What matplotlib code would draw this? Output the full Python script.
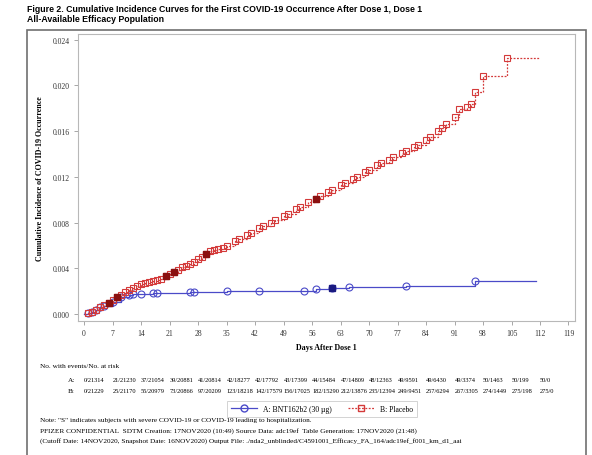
import matplotlib
matplotlib.use('Agg')
import matplotlib.pyplot as plt
from matplotlib.patches import Rectangle
from matplotlib.lines import Line2D
import matplotlib.transforms as mtransforms

# BNT162b2 (A) event days and cumulative incidence
days_a = [1, 2, 3, 4, 5, 7, 9, 11, 12, 14, 17, 18, 26, 27, 35, 43, 54, 57, 61, 65, 79, 96]
vals_a = [0.0001, 0.0002, 0.0004, 0.0006, 0.0007, 0.0011, 0.0015, 0.0017, 0.00175, 0.0018,
          0.00182, 0.00185, 0.0019, 0.00192, 0.0020, 0.00202, 0.00205, 0.0022, 0.0023, 0.0024,
          0.0025, 0.0029]
severe_a = [61]
end_a = 111

# Placebo (B) event days and cumulative incidence
days_b = [1, 2, 3, 4, 5, 6, 7, 8, 9, 10, 11, 12, 13, 14, 15, 16, 17, 18, 19, 20,
          21, 22, 23, 24, 25, 26, 27, 28, 29, 30, 31, 32, 33, 34, 35, 37, 38, 40, 41, 43,
          44, 46, 47, 49, 50, 52, 53, 55, 57, 58, 60, 61, 63, 64, 66, 67, 69, 70, 72, 73,
          75, 76, 78, 79, 81, 82, 84, 85, 87, 88, 89, 91, 92, 94, 95, 96, 98, 104]
vals_b = [0.0001, 0.0002, 0.0004, 0.0006, 0.0008, 0.0010, 0.0012, 0.0015, 0.0017, 0.0019,
          0.0021, 0.0023, 0.0025, 0.0026, 0.0027, 0.0028, 0.0029, 0.0030, 0.0031, 0.0033,
          0.0035, 0.0037, 0.0039, 0.0041, 0.0042, 0.0044, 0.0046, 0.0048, 0.0050, 0.0053,
          0.0055, 0.0056, 0.0057, 0.0058, 0.0060, 0.0064, 0.0066, 0.0069, 0.0071, 0.0075,
          0.0077, 0.0080, 0.0082, 0.0086, 0.0088, 0.0092, 0.0094, 0.0098, 0.0101, 0.0103,
          0.0107, 0.0109, 0.0113, 0.0115, 0.0118, 0.0120, 0.0124, 0.0126, 0.0130, 0.0132,
          0.0135, 0.0137, 0.0141, 0.0143, 0.0146, 0.0148, 0.0152, 0.0155, 0.0160, 0.0163,
          0.0166, 0.0172, 0.0179, 0.0181, 0.0184, 0.0194, 0.0208, 0.0224]
severe_b = [6, 8, 20, 22, 30, 57]
end_b = 112

# number at risk table
risk_days = list(range(0, 113, 7))
risk_a = ['0/21314', '21/21230', '37/21054', '39/20881', '41/20814', '42/18277', '42/17792',
          '43/17399', '44/15484', '47/14809', '48/12363', '49/9591', '49/6430', '49/3374',
          '50/1463', '50/199', '50/0']
risk_b = ['0/21229', '25/21170', '55/20979', '73/20866', '97/20209', '123/18218', '142/17579',
          '156/17025', '182/15290', '212/13876', '235/12394', '249/9451', '257/6294',
          '267/3305', '274/1449', '275/198', '275/0']

serif = 'Liberation Serif'
sans = 'Liberation Sans'
blue = '#4a4ac8'
red = '#d43a3a'

fig = plt.figure(figsize=(5.92, 4.56), dpi=100)
fig.patch.set_facecolor('white')

# outer frame
fig.patches.append(Rectangle((27 / 592, -0.02), 559 / 592, 1.02 - 31 / 456,
                             transform=fig.transFigure, fill=False,
                             edgecolor='#707070', linewidth=1.2))

fig.text(27 / 592, 1 - 9 / 456, 'Figure 2. Cumulative Incidence Curves for the First COVID-19 '
         'Occurrence After Dose 1, Dose 1', fontsize=6.3, fontweight='bold',
         family=sans, va='center', ha='left')
fig.text(27 / 592, 1 - 20 / 456, 'All-Available Efficacy Population', fontsize=6.3,
         fontweight='bold', family=sans, va='center', ha='left')

ax = fig.add_axes([78 / 592, 1 - 322 / 456, 497 / 592, 287 / 456])

xa = [0] + days_a + [end_a]
ya = [0] + vals_a + [vals_a[-1]]
ax.plot(xa, ya, drawstyle='steps-post', color=blue, lw=0.9)
ax.plot(days_a, vals_a, ls='none', marker='o', ms=5, mfc='none', mec=blue, mew=0.8)
for d in severe_a:
    v = vals_a[days_a.index(d)]
    ax.plot([d], [v], ls='none', marker='s', ms=4.5, mfc='#1a1a80', mec='#1a1a80')

xb = [0] + days_b + [end_b]
yb = [0] + vals_b + [vals_b[-1]]
ax.plot(xb, yb, drawstyle='steps-post', color=red, lw=0.9, ls=(0, (1.5, 1.2)))
ax.plot(days_b, vals_b, ls='none', marker='s', ms=4.8, mfc='none', mec=red, mew=0.8)
for d in severe_b:
    v = vals_b[days_b.index(d)]
    ax.plot([d], [v], ls='none', marker='s', ms=4.8, mfc='#8a1010', mec='#8a1010')

ax.set_xlim(-1.5, 120.6)
ax.set_ylim(-0.0006, 0.0245)
ax.set_xticks(range(0, 120, 7))
ax.set_yticks([0.000, 0.004, 0.008, 0.012, 0.016, 0.020, 0.024])
ax.set_yticklabels(['0.000', '0.004', '0.008', '0.012', '0.016', '0.020', '0.024'])
for lab in ax.get_xticklabels() + ax.get_yticklabels():
    lab.set_family(serif)
    lab.set_fontsize(5.5)
    lab.set_color('#333333')
ax.tick_params(length=3, width=0.6, color='#999999', pad=3)
for s in ax.spines.values():
    s.set_color('#b8b8b8')
    s.set_linewidth(0.8)

ax.set_xlabel('Days After Dose 1', family=serif, fontweight='bold', fontsize=5.8)
ax.xaxis.set_label_coords(0.5, -22 / 287)
ax.set_ylabel('Cumulative Incidence of COVID-19 Occurrence', family=serif,
              fontweight='bold', fontsize=5.8)
ax.yaxis.set_label_coords(-34 / 497, 0.5)

# risk table
fig.text(40 / 592, 1 - 367 / 456, 'No. with events/No. at risk', family=serif,
         fontsize=5.2, va='center', ha='left')
trans = mtransforms.blended_transform_factory(ax.transData, fig.transFigure)
fig.text(68 / 592, 1 - 381 / 456, 'A:', family=serif, fontsize=5.2, va='center')
fig.text(68 / 592, 1 - 392 / 456, 'B:', family=serif, fontsize=5.2, va='center')
for d, ta, tb in zip(risk_days, risk_a, risk_b):
    fig.text(d, 1 - 381 / 456, ta, transform=trans, family=serif, fontsize=4.6,
             va='center', ha='left')
    fig.text(d, 1 - 392 / 456, tb, transform=trans, family=serif, fontsize=4.6,
             va='center', ha='left')

handles = [Line2D([], [], color=blue, lw=0.9, marker='o', ms=5, mfc='none', mec=blue),
           Line2D([], [], color=red, lw=0.9, ls=(0, (1.5, 1.2)), marker='s', ms=4.5,
                  mfc='none', mec=red)]
leg = fig.legend(handles, ['A: BNT162b2 (30 µg)', 'B: Placebo'], ncol=2,
                 loc='center', bbox_to_anchor=(322 / 592, 1 - 410 / 456),
                 prop={'family': serif, 'size': 5.5}, frameon=True, fancybox=False,
                 handlelength=3.5, columnspacing=2.0, borderpad=0.5)
leg.get_frame().set_edgecolor('#c0c0c0')
leg.get_frame().set_linewidth(0.6)

notes = ['Note: "S" indicates subjects with severe COVID-19 or COVID-19 leading to hospitalization.',
         'PFIZER CONFIDENTIAL  SDTM Creation: 17NOV2020 (10:49) Source Data: adc19ef  '
         'Table Generation: 17NOV2020 (21:48)',
         '(Cutoff Date: 14NOV2020, Snapshot Date: 16NOV2020) Output File: '
         './nda2_unblinded/C4591001_Efficacy_FA_164/adc19ef_f001_km_d1_aai']
for i, t in enumerate(notes):
    fig.text(40 / 592, 1 - (421 + 10 * i) / 456, t, family=serif, fontsize=5.2,
             va='center', ha='left')

fig.savefig('out.png', dpi=100)
